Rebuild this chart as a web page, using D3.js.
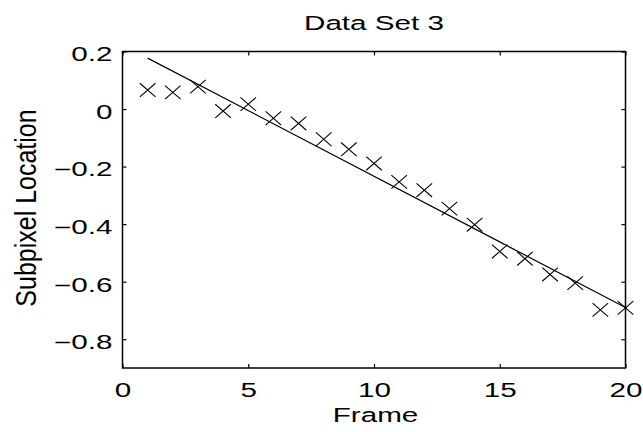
<!DOCTYPE html>
<html>
<head>
<meta charset="utf-8">
<script src="https://cdn.jsdelivr.net/npm/d3@7"></script>
<style>
  html, body { margin: 0; padding: 0; background: #fff; }
  svg { display: block; }
  text { font-family: "Liberation Sans", Arial, Helvetica, sans-serif; fill: #000; }
</style>
</head>
<body>
<svg id="chart" width="643" height="432"></svg>
<script>
// Measured subpixel location per frame
const frames   = [1, 2, 3, 4, 5, 6, 7, 8, 9, 10, 11, 12, 13, 14, 15, 16, 17, 18, 19, 20];
const subpixel = [0.066, 0.058, 0.078, -0.007, 0.017, -0.032, -0.050, -0.105, -0.140, -0.189,
                  -0.253, -0.282, -0.346, -0.402, -0.495, -0.520, -0.575, -0.605, -0.698, -0.691];

// Reference trend line (end points)
const fitFrames = [1, 20];
const fitValues = [0.177, -0.690];

const xTickValues = [0, 5, 10, 15, 20];
const xTickLabels = ["0", "5", "10", "15", "20"];
const yTickValues = [0.2, 0, -0.2, -0.4, -0.6, -0.8];
const yTickLabels = ["0.2", "0", "\u22120.2", "\u22120.4", "\u22120.6", "\u22120.8"];

const titleText = "Data Set 3";
const xLabelText = "Frame";
const yLabelText = "Subpixel Location";

// Layout
const plot = { left: 122.5, right: 625.5, top: 51.5, bottom: 368 };
const stretch = 1.52;      // horizontal widening of the lettering
const fontSize = 19.5;
const tickLen = 4;

const svg = d3.select("#chart");

const x = d3.scaleLinear().domain([0, 20]).range([plot.left, plot.right]);
const y = d3.scaleLinear().domain([-0.9, 0.2]).range([plot.bottom, plot.top]);

// Bottom axis with labels
const gx = svg.append("g")
  .attr("transform", `translate(0,${plot.bottom})`)
  .call(d3.axisBottom(x).tickValues(xTickValues)
    .tickSizeInner(-tickLen).tickSizeOuter(0)
    .tickFormat((d, i) => xTickLabels[i]));
gx.select(".domain").remove();
gx.selectAll("text")
  .attr("y", null).attr("dy", null)
  .attr("font-size", fontSize)
  .attr("font-family", null)
  .attr("transform", `translate(0,29.3) scale(${stretch},1)`);

// Top axis, ticks only
const gxt = svg.append("g")
  .attr("transform", `translate(0,${plot.top})`)
  .call(d3.axisTop(x).tickValues(xTickValues)
    .tickSizeInner(-tickLen).tickSizeOuter(0).tickFormat(""));
gxt.select(".domain").remove();

// Left axis with labels
const gy = svg.append("g")
  .attr("transform", `translate(${plot.left},0)`)
  .call(d3.axisLeft(y).tickValues(yTickValues)
    .tickSizeInner(-tickLen).tickSizeOuter(0)
    .tickFormat((d, i) => yTickLabels[i]));
gy.select(".domain").remove();
gy.selectAll("text")
  .attr("x", null).attr("dy", null)
  .attr("font-size", fontSize)
  .attr("font-family", null)
  .attr("text-anchor", "end")
  .attr("transform", `translate(-10,9.4) scale(${stretch},1)`);

// Right axis, ticks only
const gyr = svg.append("g")
  .attr("transform", `translate(${plot.right},0)`)
  .call(d3.axisRight(y).tickValues(yTickValues)
    .tickSizeInner(-tickLen).tickSizeOuter(0).tickFormat(""));
gyr.select(".domain").remove();

svg.selectAll(".tick line").attr("stroke", "#000").attr("stroke-width", 1.2);

// Axes box
svg.append("rect")
  .attr("x", plot.left).attr("y", plot.top)
  .attr("width", plot.right - plot.left)
  .attr("height", plot.bottom - plot.top)
  .attr("fill", "none").attr("stroke", "#000").attr("stroke-width", 1.5);

// Trend line
const line = d3.line().x(d => x(d[0])).y(d => y(d[1]));
svg.append("path")
  .datum(fitFrames.map((f, i) => [f, fitValues[i]]))
  .attr("d", line)
  .attr("fill", "none").attr("stroke", "#000").attr("stroke-width", 1.2);

// Cross markers
const hw = 7.8, hh = 6.8;
svg.append("g").selectAll("path")
  .data(frames.map((f, i) => [f, subpixel[i]]))
  .join("path")
  .attr("transform", d => `translate(${x(d[0])},${y(d[1])})`)
  .attr("d", `M${-hw},${-hh}L${hw},${hh}M${-hw},${hh}L${hw},${-hh}`)
  .attr("fill", "none").attr("stroke", "#000").attr("stroke-width", 1.1);

// Title
const cx = (plot.left + plot.right) / 2;
svg.append("text")
  .attr("text-anchor", "middle")
  .attr("font-size", fontSize)
  .attr("transform", `translate(${cx},30) scale(${stretch},1)`)
  .text(titleText);

// X label
svg.append("text")
  .attr("text-anchor", "middle")
  .attr("font-size", fontSize)
  .attr("transform", `translate(${cx + 1.5},421.5) scale(${stretch},1)`)
  .text(xLabelText);

// Y label
svg.append("text")
  .attr("text-anchor", "middle")
  .attr("font-size", 25)
  .attr("transform", `translate(35.5,208) scale(1.16,1) rotate(-90)`)
  .text(yLabelText);
</script>
</body>
</html>
